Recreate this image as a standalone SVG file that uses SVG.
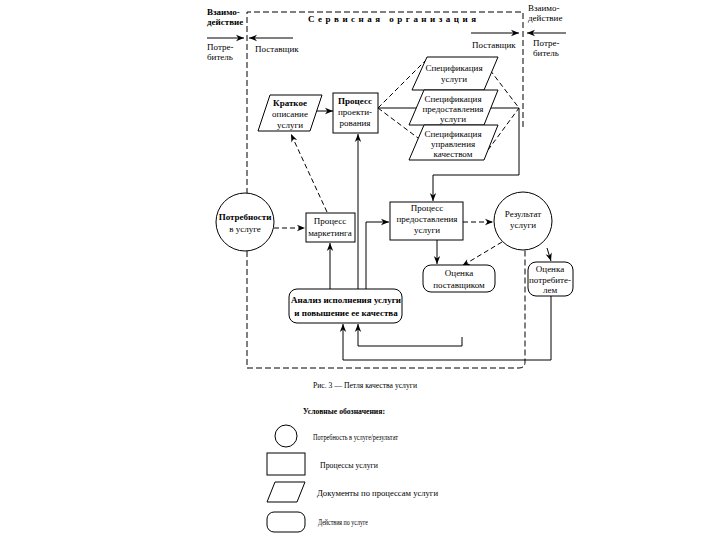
<svg xmlns="http://www.w3.org/2000/svg" width="720" height="540" viewBox="0 0 720 540">
<defs>
<marker id="ah" viewBox="0 0 10 10" refX="10" refY="5" markerWidth="10" markerHeight="8" orient="auto" markerUnits="userSpaceOnUse">
<path d="M0,1 L10,5 L0,9 L3,5 z" fill="#000"/>
</marker>
<style>
text{font-family:"Liberation Serif","Times New Roman",serif;font-size:9px;fill:#000;text-anchor:middle}
.b{font-weight:bold}
.l{text-anchor:start}
.n{fill:#fff;stroke:#000;stroke-width:1}
.c{fill:none;stroke:#000;stroke-width:1}
.d{stroke-dasharray:5 3}
.a{marker-end:url(#ah)}
.f{fill:none;stroke:#000;stroke-width:1;stroke-dasharray:6 3}
</style>
</defs>
<rect width="720" height="540" fill="#fff"/>

<g id="frame">
<path class="f" d="M523,127 V12 H247 V368 H519 Q525,368 525,362 V250"/>
<text class="b" x="392" y="22" font-size="10" textLength="168" lengthAdjust="spacing">Сервисная организация</text>
</g>

<g id="external">
<text class="b l" x="207" y="15" font-size="8">Взаимо-</text>
<text class="b l" x="207" y="25" font-size="8">действие</text>
<text class="l" x="207" y="50" font-size="8.5">Потре-</text>
<text class="l" x="207" y="60" font-size="8.5">битель</text>
<text class="l" x="255" y="52" font-size="8.5">Поставщик</text>
<text class="l" x="528" y="11" font-size="8">Взаимо-</text>
<text class="l" x="528" y="21" font-size="8">действие</text>
<text class="l" x="533" y="46" font-size="8.5">Потре-</text>
<text class="l" x="533" y="56" font-size="8.5">битель</text>
<text class="l" x="472" y="48" font-size="8.5">Поставщик</text>
</g>

<g id="connectors">
<line class="c a" x1="207" y1="38" x2="244" y2="38"/>
<line class="c a" x1="293" y1="38" x2="249" y2="38"/>
<line class="c a" x1="471" y1="33" x2="519" y2="33"/>
<line class="c a" x1="566" y1="33" x2="527" y2="33"/>
<line class="c a" x1="316" y1="111" x2="333" y2="111"/>
<line class="c d" x1="378" y1="108" x2="426" y2="60"/>
<line class="c" x1="378" y1="108" x2="417" y2="108"/>
<line class="c d" x1="378" y1="108" x2="418" y2="138"/>
<line class="c d" x1="490" y1="70" x2="519" y2="108"/>
<line class="c" x1="491" y1="108" x2="519" y2="108"/>
<line class="c d" x1="488" y1="150" x2="519" y2="108"/>
<path class="c a" d="M519,108 V175 H433 V201"/>
<line class="c a" x1="358" y1="289" x2="358" y2="134"/>
<path class="c a" d="M366,289 V222 H389"/>
<line class="c a" x1="330" y1="289" x2="330" y2="243"/>
<line class="c d a" x1="274" y1="228" x2="305" y2="228"/>
<line class="c d a" x1="327" y1="212" x2="291" y2="134"/>
<line class="c d a" x1="463" y1="222" x2="493" y2="222"/>
<line class="c a" x1="437" y1="240" x2="437" y2="264"/>
<line class="c d a" x1="502" y1="242" x2="462" y2="266"/>
<line class="c a" x1="547" y1="248" x2="551" y2="261"/>
<path class="c a" d="M551,296 V360 H343 V324"/>
<path class="c a" d="M462,337 V346 H358 V324"/>
</g>

<g id="kratkoe">
<polygon class="n" points="270,95 322,95 310,131 258,131"/>
<text class="b" x="290" y="106">Краткое</text>
<text x="290" y="117">описание</text>
<text x="290" y="128">услуги</text>
</g>

<g id="proektirovanie">
<rect class="n" x="333" y="93" width="45" height="40"/>
<text class="b" x="355" y="104">Процесс</text>
<text x="355" y="115">проекти-</text>
<text x="355" y="126">рования</text>
</g>

<g id="spec1">
<polygon class="n" points="427,57 498,57 484,90 412,90"/>
<text x="454" y="71">Спецификация</text>
<text x="454" y="82">услуги</text>
</g>
<g id="spec2">
<polygon class="n" points="424,90 498,90 484,125 409,125"/>
<text x="453" y="102">Спецификация</text>
<text x="453" y="112">предоставления</text>
<text x="453" y="122">услуги</text>
</g>
<g id="spec3">
<polygon class="n" points="424,125 498,125 484,160 409,160"/>
<text x="453" y="137">Спецификация</text>
<text x="453" y="147">управления</text>
<text x="453" y="157">качеством</text>
</g>

<g id="potrebnosti">
<circle class="n" cx="245" cy="222" r="29"/>
<text class="b" x="245" y="220">Потребности</text>
<text x="245" y="232">в услуге</text>
</g>

<g id="marketing">
<rect class="n" x="306" y="213" width="49" height="29"/>
<text x="330" y="224">Процесс</text>
<text x="330" y="236">маркетинга</text>
</g>

<g id="predostavlenie">
<rect class="n" x="390" y="202" width="73" height="38"/>
<text x="427" y="211">Процесс</text>
<text x="427" y="222">предоставления</text>
<text x="427" y="233">услуги</text>
</g>

<g id="rezultat">
<circle class="n" cx="523" cy="221" r="29"/>
<text x="523" y="217">Результат</text>
<text x="523" y="228">услуги</text>
</g>

<g id="ocenka-post">
<rect class="n" x="423" y="265" width="72" height="27" rx="8"/>
<text x="459" y="276">Оценка</text>
<text x="459" y="288">поставщиком</text>
</g>

<g id="ocenka-potr">
<rect class="n" x="528" y="262" width="45" height="34" rx="8"/>
<text x="550" y="272">Оценка</text>
<text x="550" y="283">потребите-</text>
<text x="550" y="293">лем</text>
</g>

<g id="analiz">
<rect class="n" x="289" y="289" width="113" height="34" rx="8"/>
<text class="b" x="346" y="303">Анализ исполнения услуги</text>
<text class="b" x="346" y="316">и повышение ее качества</text>
</g>

<g id="caption">
<text class="l" x="313" y="388" font-size="10" textLength="104" lengthAdjust="spacingAndGlyphs">Рис. 3 — Петля качества услуги</text>
<text class="b l" x="303" y="414" font-size="9" textLength="82" lengthAdjust="spacingAndGlyphs">Условные обозначения:</text>
</g>

<g id="legend">
<circle class="n" cx="286" cy="436" r="11"/>
<text class="l" x="313" y="440" font-size="8" textLength="85" lengthAdjust="spacingAndGlyphs">Потребность в услуге/результат</text>
<rect class="n" x="267" y="453" width="38" height="22"/>
<text class="l" x="320" y="468" font-size="8" textLength="58" lengthAdjust="spacingAndGlyphs">Процессы услуги</text>
<polygon class="n" points="275,482 305,482 297,502 267,502"/>
<text class="l" x="317" y="496" font-size="8.5" textLength="121" lengthAdjust="spacingAndGlyphs">Документы по процессам услуги</text>
<rect class="n" x="267" y="512" width="38" height="20" rx="7"/>
<text class="l" x="318" y="525" font-size="8" textLength="50" lengthAdjust="spacingAndGlyphs">Действия по услуге</text>
</g>
</svg>
